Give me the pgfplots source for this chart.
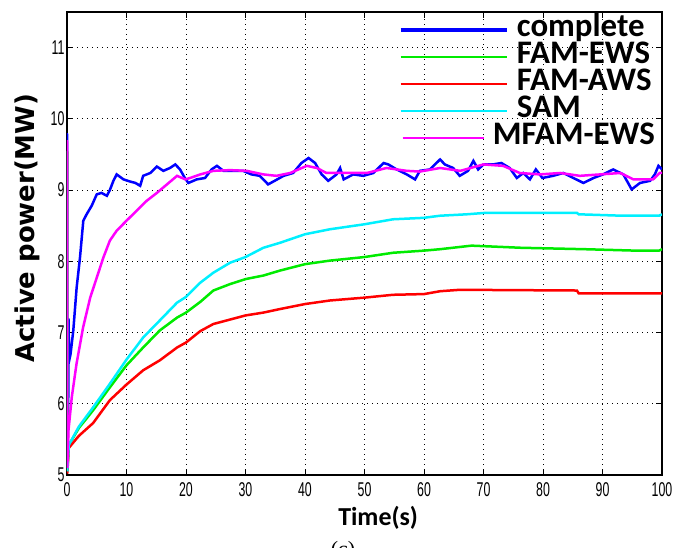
\documentclass[border=0pt]{standalone}
\usepackage{fontspec}
\setmainfont{Carlito}
\newfontfamily\tickfont[FakeStretch=0.62]{Liberation Sans}
\newfontfamily\ylabfont{DejaVu Sans}
\newfontfamily\capfont{Liberation Serif}
\usepackage{pgfplots}
\pgfplotsset{compat=1.18}
\usetikzlibrary{calc}
\definecolor{mblue}{RGB}{0,0,255}
\definecolor{mgreen}{RGB}{0,235,0}
\definecolor{mred}{RGB}{255,0,0}
\definecolor{mcyan}{RGB}{0,240,255}
\definecolor{mmagenta}{RGB}{255,0,255}
\pgfplotsset{shortleg/.style={legend image code/.code={\draw[##1] (2bp,0bp) -- (83bp,0bp);}}}

\begin{document}
\begin{tikzpicture}
\begin{axis}[
  name=ax, at={(0,0)}, anchor=south west,
  scale only axis, width=595bp, height=463bp,
  xmin=0, xmax=100, ymin=5, ymax=11.5,
  xtick={0,10,...,100}, ytick={5,6,...,11},
  grid=major,
  major grid style={black, line width=1bp, dash pattern=on 1bp off 4bp},
  axis line style={black, line width=1.3bp},
  tick style={black, line width=1bp}, major tick length=6bp,
  tick align=inside, tick pos=both,
  /pgf/number format/assume math mode=true,
  tick label style={font=\tickfont\fontsize{20}{22}\selectfont},
  xticklabel style={yshift=-4bp},
  yticklabel style={xshift=1bp},
  xlabel={Time(s)},
  xlabel style={font=\bfseries\fontsize{26}{28}\selectfont, at={(axis description cs:0.523,-0.093)}, anchor=center},
  ylabel={Active power(MW)},
  ylabel style={font=\ylabfont\bfseries\fontsize{26}{28}\selectfont, at={(axis description cs:-0.067,0.533)}, anchor=center},
  legend style={at={(rel axis cs:0.995,0.995)}, anchor=north east, draw=none, fill=none,
    font=\bfseries\fontsize{33}{33}\selectfont, row sep=0pt,
    nodes={inner sep=1bp, text height=19bp, text depth=6bp},
    /tikz/every odd column/.append style={column sep=7bp}},
  legend cell align=left,
  legend image code/.code={\draw[#1] (0bp,0bp) -- (106bp,0bp);},
  every axis plot/.append style={line width=2.5bp},
]
\addplot[mblue, legend image post style={line width=4.5bp}] coordinates {
(0,9.8)(0.05,5.1)(0.2,5.8)(0.25,7.2)(0.35,6.6)(0.6,6.7)(1.06,7.03)(1.62,7.63)(2.18,8.05)
(2.74,8.57)(3.3,8.66)(4.15,8.78)(5,8.94)(5.8,8.96)(6.7,8.92)(7.2,9.0)(7.8,9.13)(8.35,9.22)
(9.5,9.15)(10.6,9.12)(11.5,9.1)(12.3,9.06)(12.8,9.2)(14,9.24)(15.1,9.33)(16.2,9.27)(17.3,9.31)
(18.2,9.36)(19,9.29)(19.8,9.17)(20.4,9.1)(21.8,9.15)(23.2,9.17)(24.3,9.29)(25.2,9.34)(26.3,9.27)
(28,9.27)(29.6,9.27)(31,9.22)(32.4,9.2)(33.8,9.08)(34.9,9.13)(36.4,9.2)(38,9.24)(39.4,9.38)
(40.6,9.45)(41.7,9.38)(42.8,9.22)(43.9,9.13)(45.3,9.22)(45.9,9.31)(46.5,9.15)(48.1,9.22)
(49.8,9.2)(51.5,9.24)(53.2,9.38)(54,9.36)(55.4,9.29)(57.1,9.22)(58.5,9.15)(59.3,9.27)(61,9.29)
(62.7,9.43)(63.5,9.36)(64.9,9.31)(66,9.2)(67.4,9.27)(68.3,9.41)(69.1,9.29)(70,9.36)(71.6,9.36)
(73,9.38)(74.4,9.31)(75.6,9.17)(76.7,9.24)(77.8,9.15)(78.8,9.29)(79.9,9.17)(81.7,9.2)(83.4,9.24)
(85.1,9.17)(86.8,9.1)(88.5,9.17)(90.1,9.22)(91.8,9.29)(93.5,9.22)(94.9,9.01)(96.3,9.1)(98,9.13)
(98.8,9.22)(99.4,9.34)(100,9.29)};
\addlegendentry{complete}
\addplot[mgreen] coordinates {
(0,9.55)(0.05,5.05)(0.3,5.42)(2,5.66)(4.4,5.91)(7.2,6.23)(10,6.54)(12.8,6.79)(15.6,7.03)
(18.5,7.21)(20,7.28)(22.4,7.43)(24.6,7.59)(27.4,7.68)(30,7.75)(33,7.80)(35.8,7.87)(40,7.96)
(44.2,8.01)(50,8.06)(54.8,8.12)(60,8.15)(62.7,8.17)(68,8.22)(76.3,8.19)(87,8.17)(95.5,8.15)
(99.5,8.15)(100,8.17)};
\addlegendentry{FAM-EWS}
\addplot[mred] coordinates {
(0,9.55)(0.05,5.02)(0.3,5.38)(2,5.55)(4.4,5.73)(7.2,6.05)(10,6.27)(12.8,6.47)(15.6,6.61)
(18.5,6.79)(20,6.86)(22.4,7.02)(24.6,7.12)(30,7.24)(33,7.28)(35.8,7.33)(40,7.40)(44.2,7.45)
(50,7.49)(54.8,7.53)(60,7.54)(62.7,7.58)(66,7.60)(85.7,7.59)(86,7.55)(100,7.55)};
\addlegendentry{FAM-AWS}
\addplot[mcyan] coordinates {
(0,9.55)(0.05,5.05)(0.3,5.42)(2,5.68)(4.4,5.95)(7.2,6.28)(10,6.62)(12.8,6.93)(15.6,7.17)
(18.5,7.42)(20,7.5)(22.4,7.70)(24.6,7.84)(27.4,7.98)(30,8.06)(33,8.19)(35.8,8.26)(40,8.38)
(44.2,8.45)(50,8.52)(54.8,8.59)(59.9,8.61)(62.7,8.64)(67.2,8.66)(70.3,8.68)(85.7,8.68)
(86,8.66)(93.3,8.64)(99.5,8.64)(100,8.66)};
\addlegendentry{SAM}
\addplot[mmagenta, shortleg] coordinates {
(0,9.7)(0.05,5.1)(0.25,5.63)(0.8,6.09)(1.6,6.56)(2.7,7.07)(3.9,7.49)(5,7.77)(6.1,8.05)
(7.2,8.29)(8.35,8.43)(10,8.57)(11.7,8.71)(13.4,8.85)(15.1,8.96)(16.8,9.08)(18.5,9.2)(19.9,9.15)
(20.7,9.17)(22.4,9.22)(24.6,9.27)(27.4,9.28)(30.2,9.27)(33,9.22)(35.2,9.2)(37.5,9.24)(40.3,9.34)
(42,9.31)(43.6,9.24)(47,9.24)(50.4,9.24)(53.7,9.31)(57.1,9.27)(59.3,9.26)(62.7,9.31)(66.1,9.27)
(70,9.36)(73.3,9.34)(76.1,9.24)(79.5,9.22)(82.9,9.24)(86.2,9.2)(89.6,9.22)(93,9.24)(95.2,9.15)
(98.5,9.15)(99.6,9.24)(100,9.24)};
\addlegendentry{\hspace*{-24bp}MFAM-EWS}
\end{axis}
\node[font=\capfont\fontsize{22}{24}\selectfont, anchor=north] at ($(ax.south west)+(276bp,-63bp)$) {(c)};
\pgfresetboundingbox
\useasboundingbox ($(ax.south west)+(-67bp,-73bp)$) rectangle ($(ax.south west)+(619bp,475bp)$);
\end{tikzpicture}
\end{document}
